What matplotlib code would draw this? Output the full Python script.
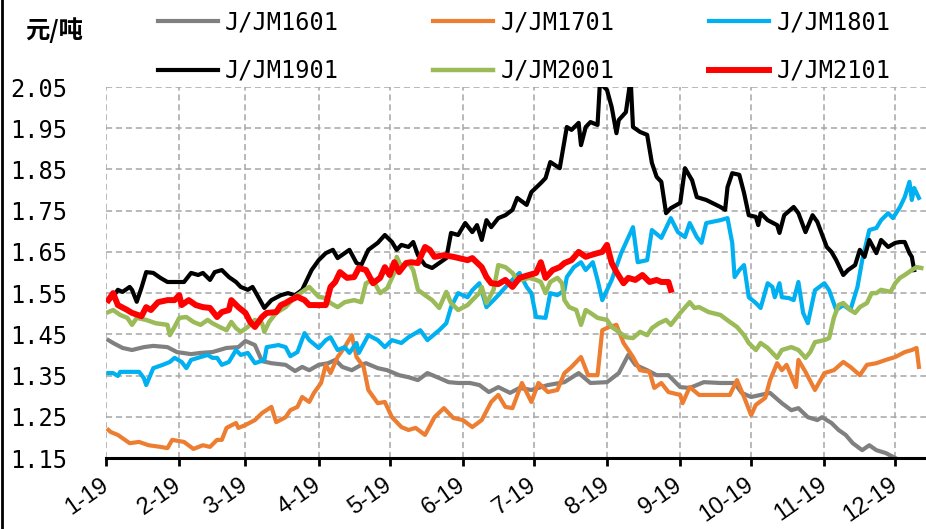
import matplotlib
matplotlib.use("Agg")
import matplotlib.pyplot as plt
import pandas as pd
from matplotlib.lines import Line2D

# 焦煤/焦炭 价差（元/吨），各合约按季节对齐到 2019 年
jm1601_dates = ["01-02", "01-04", "01-08", "01-12", "01-17", "01-21", "01-27", "01-31",
                "02-06", "02-10", "02-15", "02-21", "02-26",
                "03-01", "03-05", "03-08", "03-12", "03-18", "03-22", "03-25", "03-28",
                "04-01", "04-05", "04-08", "04-11", "04-15", "04-19", "04-21", "04-26", "04-30",
                "05-05", "05-09", "05-13", "05-17", "05-22", "05-26", "05-30",
                "06-04", "06-08", "06-12", "06-16", "06-21", "06-25", "06-30",
                "07-07", "07-14", "07-20", "07-25",
                "08-01", "08-06", "08-10", "08-13", "08-18", "08-22", "08-27",
                "09-01", "09-05", "09-11", "09-18", "09-24", "09-27",
                "10-01", "10-05", "10-09", "10-14", "10-18", "10-21", "10-25", "10-29", "10-31",
                "11-04", "11-07", "11-10", "11-13", "11-17", "11-20", "11-23", "11-27",
                "12-01"]
jm1601_vals = [1.436, 1.429, 1.417, 1.412, 1.419, 1.422, 1.419, 1.407,
               1.402, 1.405, 1.407, 1.417, 1.419,
               1.434, 1.424, 1.385, 1.380, 1.376, 1.361, 1.371, 1.363,
               1.376, 1.380, 1.388, 1.371, 1.363, 1.376, 1.380, 1.368, 1.363,
               1.351, 1.346, 1.339, 1.356, 1.344, 1.334, 1.332,
               1.332, 1.327, 1.310, 1.322, 1.308, 1.320, 1.315,
               1.327, 1.334, 1.356, 1.332,
               1.334, 1.356, 1.400, 1.376, 1.363, 1.351, 1.351,
               1.322, 1.320, 1.334, 1.332, 1.332, 1.308,
               1.298, 1.303, 1.308, 1.283, 1.266, 1.271, 1.249, 1.242, 1.249,
               1.235, 1.218, 1.206, 1.186, 1.169, 1.181, 1.169, 1.162,
               1.150]

jm1701_dates = ["01-02", "01-03", "01-06", "01-08", "01-11", "01-15", "01-19", "01-24", "01-27", "01-29",
                "02-03", "02-07", "02-11", "02-14", "02-17", "02-19", "02-21", "02-25", "02-26",
                "03-01", "03-05", "03-08", "03-12", "03-14", "03-18", "03-20", "03-23", "03-25", "03-28", "03-30",
                "04-02", "04-04", "04-06", "04-09", "04-12", "04-15", "04-17", "04-20", "04-22", "04-26", "04-29",
                "05-02", "05-06", "05-09", "05-12", "05-16", "05-20", "05-24", "05-28",
                "06-01", "06-05", "06-09", "06-13", "06-16", "06-19", "06-22", "06-26", "06-30",
                "07-03", "07-07", "07-11", "07-14", "07-17", "07-21", "07-24", "07-28", "07-30",
                "08-02", "08-05", "08-08", "08-12", "08-15", "08-19", "08-21", "08-24", "08-27",
                "09-01", "09-02", "09-05", "09-09", "09-18", "09-22", "09-25", "09-28",
                "10-01", "10-03", "10-07", "10-09", "10-12", "10-14", "10-16", "10-20", "10-21", "10-24", "10-28",
                "11-01", "11-05", "11-09", "11-12", "11-16", "11-19", "11-23", "11-27",
                "12-01", "12-05", "12-08", "12-10", "12-11"]
jm1701_vals = [1.218, 1.213, 1.206, 1.198, 1.186, 1.189, 1.181, 1.177, 1.174, 1.194,
               1.189, 1.172, 1.181, 1.177, 1.194, 1.194, 1.223, 1.235, 1.223,
               1.230, 1.242, 1.259, 1.274, 1.237, 1.249, 1.266, 1.274, 1.298, 1.286, 1.308,
               1.332, 1.376, 1.356, 1.395, 1.419, 1.448, 1.395, 1.371, 1.315, 1.283, 1.286,
               1.249, 1.225, 1.218, 1.223, 1.206, 1.249, 1.271, 1.247,
               1.242, 1.225, 1.242, 1.286, 1.303, 1.274, 1.271, 1.332, 1.286,
               1.332, 1.310, 1.315, 1.356, 1.371, 1.395, 1.351, 1.351, 1.460,
               1.468, 1.473, 1.429, 1.395, 1.363, 1.359, 1.320, 1.332, 1.310,
               1.303, 1.283, 1.322, 1.303, 1.303, 1.303, 1.339, 1.298,
               1.254, 1.279, 1.296, 1.339, 1.380, 1.363, 1.376, 1.322, 1.388, 1.359, 1.315,
               1.356, 1.363, 1.383, 1.371, 1.351, 1.376, 1.380, 1.388,
               1.395, 1.407, 1.412, 1.417, 1.371]

jm1801_dates = ["01-02", "01-04", "01-06", "01-07", "01-11", "01-15", "01-17", "01-18", "01-21", "01-25", "01-28", "01-30",
                "02-02", "02-04", "02-06", "02-10", "02-13", "02-15", "02-17", "02-19", "02-22", "02-25", "02-27",
                "03-02", "03-05", "03-09", "03-10", "03-15", "03-18", "03-20", "03-23", "03-26", "03-28",
                "04-01", "04-04", "04-06", "04-09", "04-12", "04-14", "04-17", "04-18", "04-22", "04-26", "04-29",
                "05-02", "05-06", "05-09", "05-12", "05-14", "05-17", "05-22", "05-25", "05-27", "05-30",
                "06-03", "06-05", "06-08", "06-11", "06-14", "06-16", "06-21", "06-25", "06-28", "06-30",
                "07-02", "07-06", "07-08", "07-11", "07-14", "07-15", "07-18", "07-21", "07-23", "07-26", "07-28", "07-30",
                "08-03", "08-07", "08-12", "08-14", "08-18", "08-20", "08-24", "08-28", "08-31",
                "09-03", "09-05", "09-08", "09-10", "09-12", "09-18", "09-21", "09-23", "09-24", "09-26", "09-28", "09-30",
                "10-03", "10-05", "10-08", "10-10", "10-11", "10-13", "10-14", "10-17", "10-19", "10-21", "10-23", "10-25", "10-28",
                "11-01", "11-03", "11-06", "11-09", "11-12", "11-15", "11-17", "11-20", "11-23", "11-25", "11-28", "11-30",
                "12-03", "12-05", "12-07", "12-08", "12-09", "12-11"]
jm1801_vals = [1.356, 1.356, 1.349, 1.359, 1.359, 1.359, 1.344, 1.327, 1.368, 1.376, 1.383, 1.393,
               1.383, 1.368, 1.388, 1.395, 1.400, 1.393, 1.393, 1.376, 1.383, 1.412, 1.400,
               1.405, 1.380, 1.388, 1.419, 1.424, 1.419, 1.397, 1.407, 1.453, 1.436,
               1.417, 1.436, 1.443, 1.412, 1.419, 1.405, 1.429, 1.405, 1.448, 1.436, 1.419,
               1.436, 1.429, 1.443, 1.453, 1.460, 1.436, 1.460, 1.477, 1.516, 1.550,
               1.540, 1.557, 1.574, 1.516, 1.533, 1.545, 1.577, 1.599, 1.565, 1.550,
               1.492, 1.490, 1.550, 1.545, 1.557, 1.589, 1.613, 1.625, 1.606, 1.625, 1.582, 1.533,
               1.582, 1.647, 1.710, 1.625, 1.630, 1.703, 1.684, 1.732, 1.698,
               1.686, 1.720, 1.686, 1.672, 1.720, 1.727, 1.732, 1.672, 1.589, 1.606, 1.618, 1.540,
               1.526, 1.514, 1.574, 1.565, 1.540, 1.574, 1.540, 1.538, 1.533, 1.577, 1.502, 1.477, 1.557,
               1.574, 1.557, 1.509, 1.521, 1.509, 1.565, 1.630, 1.703, 1.708, 1.727, 1.744, 1.732,
               1.759, 1.783, 1.820, 1.776, 1.805, 1.781]

jm1901_dates = ["01-02", "01-04", "01-06", "01-08", "01-11", "01-12", "01-14", "01-16", "01-18", "01-21", "01-24", "01-27", "01-29",
                "02-03", "02-06", "02-09", "02-11", "02-14", "02-16", "02-19", "02-22", "02-25", "02-27",
                "03-02", "03-04", "03-06", "03-09", "03-12", "03-16", "03-19", "03-22", "03-25", "03-27", "03-29",
                "04-01", "04-04", "04-07", "04-09", "04-12", "04-14", "04-17", "04-19", "04-22", "04-26", "04-29",
                "05-02", "05-04", "05-06", "05-09", "05-11", "05-13", "05-16", "05-19", "05-22", "05-25", "05-27", "05-30",
                "06-02", "06-05", "06-07", "06-09", "06-11", "06-13", "06-16", "06-19", "06-22", "06-24", "06-28", "06-30",
                "07-04", "07-06", "07-08", "07-12", "07-15", "07-17", "07-20", "07-21", "07-23", "07-25", "07-28", "07-29",
                "08-01", "08-03", "08-05", "08-06", "08-09", "08-11", "08-12", "08-15", "08-18", "08-20", "08-22", "08-24", "08-26", "08-28",
                "09-01", "09-03", "09-06", "09-08", "09-12", "09-18", "09-20", "09-21", "09-23", "09-26", "09-28", "09-30",
                "10-03", "10-04", "10-05", "10-08", "10-12", "10-13", "10-15", "10-19", "10-21", "10-24", "10-27", "10-29",
                "11-02", "11-04", "11-06", "11-09", "11-11", "11-14", "11-16", "11-18", "11-20", "11-23", "11-25", "11-28",
                "12-01", "12-03", "12-05", "12-07", "12-08", "12-09"]
jm1901_vals = [1.533, 1.541, 1.558, 1.553, 1.565, 1.558, 1.529, 1.563, 1.601, 1.599, 1.587, 1.577, 1.577,
               1.577, 1.599, 1.594, 1.599, 1.582, 1.601, 1.606, 1.589, 1.577, 1.565,
               1.558, 1.565, 1.545, 1.514, 1.533, 1.545, 1.550, 1.545, 1.558, 1.582, 1.606,
               1.630, 1.647, 1.655, 1.635, 1.647, 1.655, 1.623, 1.618, 1.655, 1.672, 1.691,
               1.674, 1.655, 1.667, 1.662, 1.674, 1.642, 1.618, 1.611, 1.623, 1.635, 1.696, 1.691,
               1.720, 1.698, 1.715, 1.679, 1.727, 1.710, 1.732, 1.739, 1.752, 1.781, 1.764, 1.795,
               1.817, 1.829, 1.868, 1.853, 1.953, 1.946, 1.963, 1.909, 1.953, 1.965, 1.958, 2.060,
               2.043, 2.001, 1.938, 1.970, 1.989, 2.070, 1.953, 1.941, 1.934, 1.866, 1.832, 1.820, 1.744, 1.756,
               1.769, 1.853, 1.824, 1.783, 1.776, 1.759, 1.752, 1.807, 1.841, 1.837, 1.793, 1.739,
               1.735, 1.715, 1.744, 1.727, 1.715, 1.696, 1.739, 1.759, 1.744, 1.698, 1.739, 1.723,
               1.662, 1.650, 1.630, 1.594, 1.606, 1.618, 1.655, 1.638, 1.679, 1.647, 1.679, 1.662,
               1.672, 1.674, 1.674, 1.647, 1.638, 1.606]

jm2001_dates = ["01-02", "01-04", "01-07", "01-10", "01-12", "01-14", "01-18", "01-22", "01-27", "01-28", "01-30",
                "02-01", "02-04", "02-07", "02-10", "02-13", "02-15", "02-18", "02-21", "02-23", "02-25", "02-27",
                "03-02", "03-05", "03-08", "03-09", "03-11", "03-14", "03-18", "03-22", "03-25", "03-28",
                "04-01", "04-04", "04-06", "04-09", "04-12", "04-16", "04-19", "04-21", "04-24", "04-27", "04-30",
                "05-03", "05-04", "05-06", "05-09", "05-11", "05-13", "05-16", "05-19", "05-22", "05-25", "05-27", "05-30",
                "06-03", "06-05", "06-08", "06-09", "06-11", "06-14", "06-16", "06-19", "06-22", "06-24", "06-26", "06-29",
                "07-02", "07-04", "07-06", "07-08", "07-11", "07-13", "07-14", "07-16", "07-19", "07-21", "07-23", "07-25", "07-28",
                "08-01", "08-03", "08-06", "08-09", "08-12", "08-15", "08-18", "08-20", "08-23", "08-26", "08-28",
                "09-01", "09-05", "09-07", "09-09", "09-13", "09-18", "09-22", "09-25", "09-28", "09-30",
                "10-03", "10-05", "10-08", "10-12", "10-14", "10-18", "10-21", "10-24", "10-26", "10-28",
                "11-01", "11-03", "11-05", "11-07", "11-09", "11-12", "11-14", "11-16", "11-19", "11-21", "11-23", "11-25", "11-29",
                "12-01", "12-03", "12-05", "12-08", "12-10", "12-12"]
jm2001_vals = [1.504, 1.509, 1.497, 1.490, 1.473, 1.490, 1.485, 1.477, 1.473, 1.448, 1.468,
               1.490, 1.492, 1.480, 1.473, 1.485, 1.477, 1.468, 1.460, 1.480, 1.465, 1.456,
               1.468, 1.485, 1.477, 1.456, 1.480, 1.502, 1.516, 1.541, 1.553, 1.565,
               1.541, 1.538, 1.526, 1.516, 1.528, 1.533, 1.528, 1.574, 1.582, 1.550, 1.562,
               1.599, 1.638, 1.613, 1.623, 1.606, 1.558, 1.545, 1.533, 1.514, 1.553, 1.526, 1.509,
               1.521, 1.533, 1.550, 1.565, 1.526, 1.558, 1.618, 1.613, 1.599, 1.582, 1.582, 1.587,
               1.582, 1.577, 1.550, 1.577, 1.587, 1.574, 1.533, 1.516, 1.509, 1.473, 1.509, 1.502, 1.490,
               1.485, 1.468, 1.456, 1.443, 1.441, 1.456, 1.448, 1.465, 1.477, 1.485, 1.473,
               1.502, 1.528, 1.514, 1.516, 1.504, 1.497, 1.480, 1.468, 1.448, 1.429,
               1.412, 1.429, 1.417, 1.393, 1.412, 1.419, 1.412, 1.393, 1.407, 1.431,
               1.436, 1.441, 1.490, 1.521, 1.526, 1.509, 1.502, 1.516, 1.526, 1.550, 1.550, 1.558, 1.553,
               1.574, 1.587, 1.594, 1.606, 1.613, 1.611]

jm2101_dates = ["01-02", "01-04", "01-06", "01-10", "01-12", "01-16", "01-18", "01-20", "01-23", "01-27", "01-30",
                "02-01", "02-02", "02-05", "02-08", "02-11", "02-14", "02-17", "02-19", "02-22", "02-23", "02-26",
                "03-01", "03-03", "03-05", "03-08", "03-10", "03-14", "03-16", "03-18", "03-20", "03-23", "03-26", "03-28",
                "04-01", "04-04", "04-06", "04-08", "04-10", "04-13", "04-16", "04-18", "04-21", "04-24", "04-27", "04-29",
                "05-01", "05-03", "05-05", "05-08", "05-10", "05-13", "05-16", "05-18", "05-20", "05-24", "05-28",
                "06-03", "06-05", "06-09", "06-11", "06-13", "06-16", "06-19", "06-22", "06-25", "06-29",
                "07-02", "07-04", "07-06", "07-09", "07-12", "07-14", "07-17", "07-20", "07-23", "07-25", "07-28", "07-30",
                "08-01", "08-03", "08-05", "08-08", "08-10", "08-13", "08-16", "08-19", "08-22", "08-24", "08-27", "08-28"]
jm2101_vals = [1.533, 1.550, 1.521, 1.509, 1.502, 1.494, 1.516, 1.509, 1.528, 1.533, 1.533,
               1.545, 1.521, 1.533, 1.521, 1.516, 1.514, 1.492, 1.504, 1.509, 1.533, 1.516,
               1.502, 1.480, 1.468, 1.492, 1.502, 1.504, 1.521, 1.526, 1.533, 1.541, 1.533, 1.521,
               1.521, 1.521, 1.565, 1.577, 1.601, 1.587, 1.589, 1.611, 1.606, 1.574, 1.587, 1.613,
               1.594, 1.625, 1.601, 1.623, 1.625, 1.623, 1.662, 1.655, 1.638, 1.642, 1.638,
               1.630, 1.635, 1.613, 1.589, 1.574, 1.572, 1.582, 1.565, 1.587, 1.594,
               1.599, 1.625, 1.587, 1.606, 1.613, 1.623, 1.630, 1.650, 1.638, 1.642, 1.647, 1.650,
               1.667, 1.623, 1.601, 1.574, 1.587, 1.582, 1.594, 1.577, 1.582, 1.577, 1.577, 1.558]

series_names = ["J/JM1601", "J/JM1701", "J/JM1801", "J/JM1901", "J/JM2001", "J/JM2101"]
series_colors = ["#808080", "#ED7D31", "#00B0F0", "#000000", "#9BBB59", "#FF0000"]
series_widths = [3.0, 3.0, 3.0, 3.0, 3.2, 4.3]

y_ticks = [1.15, 1.25, 1.35, 1.45, 1.55, 1.65, 1.75, 1.85, 1.95, 2.05]
month_labels = [f"{m}-19" for m in range(1, 13)]

all_dates = [jm1601_dates, jm1701_dates, jm1801_dates, jm1901_dates, jm2001_dates, jm2101_dates]
all_vals = [jm1601_vals, jm1701_vals, jm1801_vals, jm1901_vals, jm2001_vals, jm2101_vals]

mono = "DejaVu Sans Mono"

fig = plt.figure(figsize=(9.26, 5.29), dpi=100)
ax = fig.add_axes([0.1145, 0.1342, 0.8855, 0.7013])

lines = []
for dates, vals, name, color, lw in zip(all_dates, all_vals, series_names, series_colors, series_widths):
    x = pd.to_datetime(["2019-" + d for d in dates])
    (ln,) = ax.plot(x, vals, color=color, lw=lw, label=name)
    lines.append(ln)

ax.set_ylim(1.15, 2.05)
ax.set_yticks(y_ticks)
ax.set_yticklabels([f"{v:.2f}" for v in y_ticks], fontfamily=mono, fontsize=17)
ax.set_xlim(pd.Timestamp("2019-01-01"), pd.Timestamp("2019-12-14"))
month_starts = pd.date_range("2019-01-01", periods=12, freq="MS")
ax.set_xticks(month_starts)
ax.set_xticklabels(month_labels, rotation=35, ha="right", va="center",
                   rotation_mode="anchor", fontfamily="Liberation Sans", fontsize=17)

ax.grid(True, color="#A6A6A6", linestyle=(0, (4, 2.5)), lw=1.1)
ax.set_axisbelow(True)
for side in ["left", "right", "top"]:
    ax.spines[side].set_visible(False)
ax.spines["bottom"].set_linewidth(2.2)
ax.tick_params(axis="y", length=0, pad=28)
ax.tick_params(axis="x", direction="out", length=6, width=2, pad=12)

# 图例两行三列，按行排布
order = [0, 3, 1, 4, 2, 5]
fig.legend([lines[i] for i in order], [series_names[i] for i in order],
           ncol=3, loc="upper left", bbox_to_anchor=(0.165, 0.99),
           frameon=False, prop={"family": mono, "size": 17},
           handlelength=2.55, handletextpad=0.3, columnspacing=4.0,
           labelspacing=1.05, borderpad=0.2, borderaxespad=0)

fig.text(0.027, 0.943, "元/吨", fontfamily="Noto Sans CJK SC", fontsize=17.5,
         fontweight="bold", va="center", ha="left")

fig.add_artist(Line2D([0.0025, 0.0025], [0, 1], color="black", lw=2))

fig.savefig("out.png", dpi=100)
